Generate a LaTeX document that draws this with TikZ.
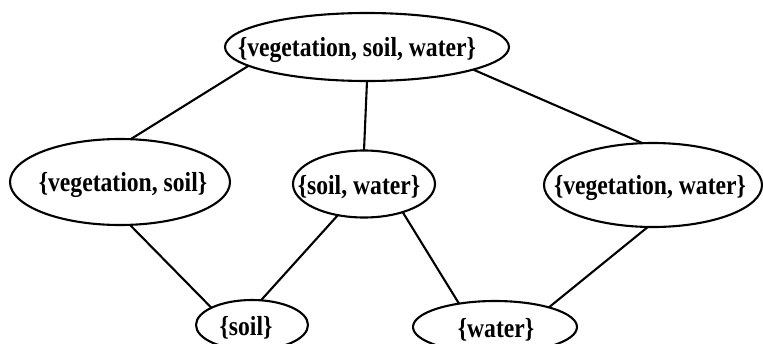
\documentclass[tikz,border=0pt]{standalone}
\usepackage{fontspec}
\newfontfamily\lblfont{Liberation Serif}[FakeStretch=0.86]
\usetikzlibrary{shapes.geometric}
\tikzset{
  setbox/.style 2 args={draw, ellipse, line width=2.1pt, inner sep=0pt, outer sep=0pt,
    minimum width=#1, minimum height=#2},
  lbl/.style={font=\lblfont\bfseries\fontsize{27.5}{30}\selectfont, inner sep=0pt},
  edge/.style={line width=2.1pt}
}
\begin{document}
\begin{tikzpicture}[x=1pt, y=-1pt]
\useasboundingbox (0,0) rectangle (763,343);

% lattice of subsets
\node[setbox={284pt}{68pt}, label={[lbl, xshift=-10pt, yshift=-3pt]center:\{vegetation, soil, water\}}] (vsw) at (367,47) {};
\node[setbox={220pt}{86pt}, label={[lbl, xshift=3pt, yshift=-3pt]center:\{vegetation, soil\}}] (vs) at (120,182) {};
\node[setbox={142pt}{67pt}, label={[lbl, xshift=-5pt, yshift=-3pt]center:\{soil, water\}}] (sw) at (364,184) {};
\node[setbox={218pt}{84pt}, label={[lbl, xshift=-3pt, yshift=-3pt]center:\{vegetation, water\}}] (vw) at (653,185) {};
\node[setbox={112pt}{50pt}, label={[lbl, xshift=-6pt, yshift=-3pt]center:\{soil\}}] (s) at (252,325) {};
\node[setbox={164pt}{52pt}, label={[lbl, xshift=1pt, yshift=-3pt]center:\{water\}}] (w) at (495,327) {};

% covering relations
\draw[edge] (vsw.189.3) -- (vs.76.6);
\draw[edge] (vsw.270) -- (sw.90);
\draw[edge] (vsw.348.3) -- (vw.104.7);
\draw[edge] (vs.283.1) -- (s.157.5);
\draw[edge] (sw.230.7) -- (s.70.2);
\draw[edge] (sw.324.2) -- (w.147);
\draw[edge] (vw.263.2) -- (w.20.2);
\end{tikzpicture}
\end{document}
